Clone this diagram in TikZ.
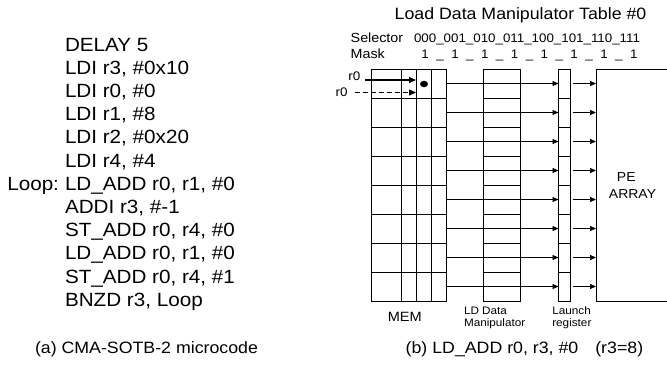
\documentclass[tikz,border=0pt]{standalone}
\usepackage{fontspec}
\setmainfont[FakeStretch=1.08]{Liberation Sans}
\usetikzlibrary{arrows.meta,shapes.geometric}
\begin{document}
\begin{tikzpicture}[x=1bp,y=-1bp,
  txt/.style={anchor=base west, inner sep=0pt, outer sep=0pt},
  ctxt/.style={anchor=base, inner sep=0pt, outer sep=0pt},
  codef/.style={font=\fontsize{19.2}{23.2}\selectfont},
  capf/.style={font=\fontsize{16.5}{20}\selectfont},
  self/.style={font=\fontsize{13.3}{16}\selectfont},
  digf/.style={font=\fontsize{12.4}{15}\selectfont},
  smallf/.style={font=\fontsize{10.9}{13}\selectfont},
  blk/.style={draw, line width=0.7bp, inner sep=0pt, outer sep=0pt, anchor=north west, minimum height=232bp},
  gridline/.style={line width=0.7bp},
  feed/.style={line width=0.7bp, -{Triangle[length=6bp,width=5bp]}},
  regarrow/.style={line width=1.3bp, -{Triangle[length=7bp,width=6bp]}},
]
\useasboundingbox (0,0) rectangle (667,366);

% ---------- (a) microcode ----------
\node[txt,codef] (c1)  at (65,51)    {DELAY 5};
\node[txt,codef] (c2)  at (65,74.2)  {LDI r3, \#0x10};
\node[txt,codef] (c3)  at (65,97.4)  {LDI r0, \#0};
\node[txt,codef] (c4)  at (65,120.6) {LDI r1, \#8};
\node[txt,codef] (c5)  at (65,143.8) {LDI r2, \#0x20};
\node[txt,codef] (c6)  at (65,167)   {LDI r4, \#4};
\node[txt,codef] (c7)  at (65,190.2) {LD\_ADD r0, r1, \#0};
\node[txt,codef] (c8)  at (65,213.4) {ADDI r3, \#-1};
\node[txt,codef] (c9)  at (65,236.6) {ST\_ADD r0, r4, \#0};
\node[txt,codef] (c10) at (65,259.8) {LD\_ADD r0, r1, \#0};
\node[txt,codef] (c11) at (65,283)   {ST\_ADD r0, r4, \#1};
\node[txt,codef] (c12) at (65,306.2) {BNZD r3, Loop};
\node[txt,codef] (lbl) at (7.3,190.2) {Loop:};
\node[txt,capf] (capa) at (35,353) {(a) CMA-SOTB-2 microcode};

% ---------- (b) header ----------
\node[ctxt,capf] (title) at (520.5,19.3) {Load Data Manipulator Table \#0};
\node[txt,self] (sel) at (350.7,42.7) {Selector};
\node[txt,self] (mask) at (350.7,58.3) {Mask};
\node[txt,digf] (codes) at (414,42.7) {000\_001\_010\_011\_100\_101\_110\_111};
\foreach \k in {0,...,7} \node[ctxt,digf] (m\k) at ({425.2+29.8*\k},58.3) {1};
\foreach \k in {0,...,6} \node[ctxt,digf] (u\k) at ({440.1+29.8*\k},58.3) {\_};

% ---------- blocks ----------
\node[blk, minimum width=75bp] (mem) at (371,69) {};
\foreach \x in {401,416,431} \draw[gridline] (\x,69) -- (\x,301);
\foreach \k in {1,...,7} \draw[gridline] (371,{69+29*\k}) -- (446,{69+29*\k});

\node[blk, minimum width=37bp] (ldd) at (483,69) {};
\foreach \k in {1,...,15} \draw[gridline] (483,{69+14.5*\k}) -- (520,{69+14.5*\k});

\node[blk, minimum width=12bp] (lr) at (558.5,69) {};
\foreach \k in {1,...,7} \draw[gridline] (558.5,{69+29*\k}) -- (570.5,{69+29*\k});

\node[inner sep=0pt, outer sep=0pt, anchor=north west, minimum width=71bp, minimum height=232bp] (pe) at (596,69) {};
\draw[gridline] (pe.north east) -- (pe.north west) -- (pe.south west) -- (pe.south east);
\node[ctxt,font=\fontsize{13}{15}\selectfont] (pe1) at (626.3,181.7) {PE};
\node[ctxt,font=\fontsize{13}{15}\selectfont] (pe2) at (632.5,198) {ARRAY};

% ---------- connectors ----------
\foreach \k in {0,...,7} {
  \pgfmathsetmacro\yy{83.5+29*\k}
  \draw[gridline] (mem.east |- 0,\yy) -- (ldd.west |- 0,\yy);
  \draw[feed] (ldd.east |- 0,\yy) -- (lr.west |- 0,\yy);
  \draw[feed, shorten <=2bp] (lr.east |- 0,\yy) -- (pe.west |- 0,\yy);
}

% ---------- r0 inputs ----------
\node[txt,font=\fontsize{12.5}{15}\selectfont] (r0a) at (348.3,80.5) {r0};
\node[txt,font=\fontsize{12.5}{15}\selectfont] (r0b) at (335.7,96.5) {r0};
\coordinate (hit1) at (416,80);
\coordinate (hit2) at (416,92.5);
\draw[regarrow, shorten <=5bp] (r0a.east |- hit1) -- (hit1);
\draw[regarrow, dash pattern=on 5bp off 3bp, shorten <=7bp] (r0b.east |- hit2) -- (hit2);
\node[fill, ellipse, minimum width=8bp, minimum height=6.5bp, inner sep=0pt] (dot) at (424,84) {};

% ---------- bottom labels ----------
\node[ctxt,font=\fontsize{13.5}{16}\selectfont] (meml) at (404.7,321.7) {MEM};
\node[txt,smallf] (ldl1) at (464,314) {LD Data};
\node[txt,smallf] (ldl2) at (464,326) {Manipulator};
\node[txt,smallf] (lrl1) at (552.3,314) {Launch};
\node[txt,smallf] (lrl2) at (552.3,326) {register};
\node[txt,capf] (capb) at (405.7,353) {(b) LD\_ADD r0, r3, \#0\hspace{17bp}(r3=8)};
\end{tikzpicture}
\end{document}
